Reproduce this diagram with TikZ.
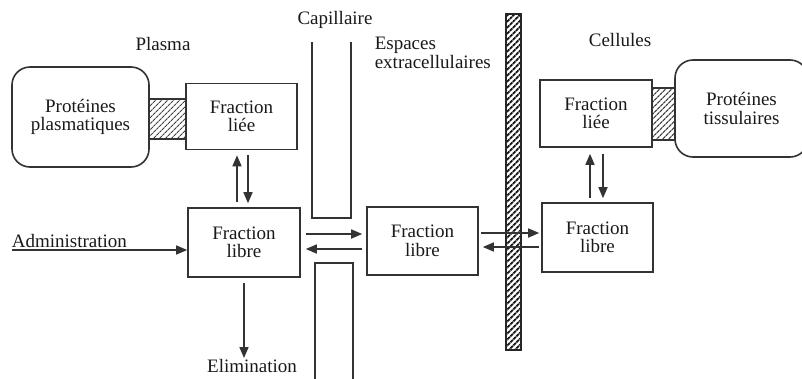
\documentclass[tikz,border=0pt]{standalone}
\usepackage{fontspec}
\setmainfont{Liberation Serif}
\usetikzlibrary{arrows.meta,patterns.meta}
\newcommand{\diagfont}{\fontsize{19}{18.5}\selectfont}
\begin{document}
\begin{tikzpicture}[x=1pt,y=-1pt,
  line width=1.6pt,
  every node/.style={text=black!90, font=\diagfont},
  box/.style={draw=black!80, line width=1.6pt, rectangle, align=center, inner sep=0pt},
  rbox/.style={box, rounded corners=18pt},
  hatch/.style={draw=black!80, line width=1.4pt, inner sep=0pt,
    pattern={Lines[angle=45,distance=4pt,line width=1.2pt]}, pattern color=black!75},
  arr/.style={draw=black!80, line width=1.6pt, -{Triangle[length=11pt,width=9pt]}},
  wall/.style={draw=black!80, line width=1.6pt},
  lbl/.style={inner sep=0pt, align=left}]
\useasboundingbox (0,0) rectangle (802,378);
\clip (0,0) rectangle (802,378);
% labels
\node[lbl] (plasma) at (163,44) {Plasma};
\node[lbl] (capil) at (335,20) {Capillaire};
\node[lbl, anchor=west] (espaces) at (374,53) {Espaces\\extracellulaires};
\node[lbl] (cellules) at (620,40) {Cellules};
% plasma side
\node[rbox, minimum width=137pt, minimum height=100pt] (pprot) at (80.5,117) {Protéines\\plasmatiques};
\node[box, minimum width=111pt, minimum height=66pt] (pliee) at (241.5,116.5) {Fraction\\liée};
\node[hatch, minimum width=37pt, minimum height=40pt] (phatch) at (167.5,119) {};
\node[box, minimum width=112pt, minimum height=69pt] (plibre) at (244,242.5) {Fraction\\libre};
\node[lbl, anchor=south west] (admin) at (11,248) {Administration};
\coordinate (adminstart) at (12,250);
\node[lbl, anchor=base] (elim) at (252,372) {Elimination};
% capillary walls
\draw[wall] (312,42) -- (312,218) -- (351,218) -- (351,42);
\draw[wall] (315,390) -- (315,263) -- (353,263) -- (353,390);
% extracellular
\node[box, minimum width=111pt, minimum height=68pt] (elibre) at (422.5,241) {Fraction\\libre};
% membrane
\path[fill=black!30, pattern={Lines[angle=45,distance=4pt,line width=2pt]}, pattern color=black!90]
  (506,14) rectangle (521,350);
\draw[draw=black!85, line width=1.4pt] (506,14) rectangle (521,350);
% cell side
\node[box, minimum width=112pt, minimum height=67pt] (cliee) at (596,113.5) {Fraction\\liée};
\node[hatch, minimum width=23pt, minimum height=52pt] (chatch) at (663.5,114) {};
\node[rbox, minimum width=133pt, minimum height=97pt] (cprot) at (741.5,108.5) {Protéines\\tissulaires};
\node[box, minimum width=111pt, minimum height=69pt] (clibre) at (597.5,237.5) {Fraction\\libre};
% arrows plasma
\draw[arr] ([xshift=-7pt,yshift=5pt]plibre.north) -- ([xshift=-4.5pt,yshift=-5pt]pliee.south);
\draw[arr] ([xshift=6.5pt,yshift=-5pt]pliee.south) -- ([xshift=4pt,yshift=4pt]plibre.north);
\draw[arr] (adminstart) -- ([yshift=-7.5pt]plibre.west);
\draw[arr] ([yshift=-5pt]plibre.south) -- (plibre.south |- elim.north);
% across capillary
\draw[arr] ([xshift=5pt,yshift=8.5pt]plibre.east) -- ([xshift=-4pt,yshift=7pt]elibre.west);
\draw[arr] ([xshift=-4pt,yshift=-8pt]elibre.west) -- ([xshift=5pt,yshift=-6.5pt]plibre.east);
% across membrane
\draw[arr] ([xshift=2pt,yshift=8pt]elibre.east) -- ([xshift=-2pt,yshift=4.5pt]clibre.west);
\draw[arr] ([xshift=-2pt,yshift=-9.5pt]clibre.west) -- ([xshift=4pt,yshift=-6pt]elibre.east);
% cell vertical
\draw[arr] ([xshift=-7.5pt,yshift=4pt]clibre.north) -- ([xshift=-6pt,yshift=-6pt]cliee.south);
\draw[arr] ([xshift=7pt,yshift=-6pt]cliee.south) -- ([xshift=5.5pt,yshift=4pt]clibre.north);
\end{tikzpicture}
\end{document}
